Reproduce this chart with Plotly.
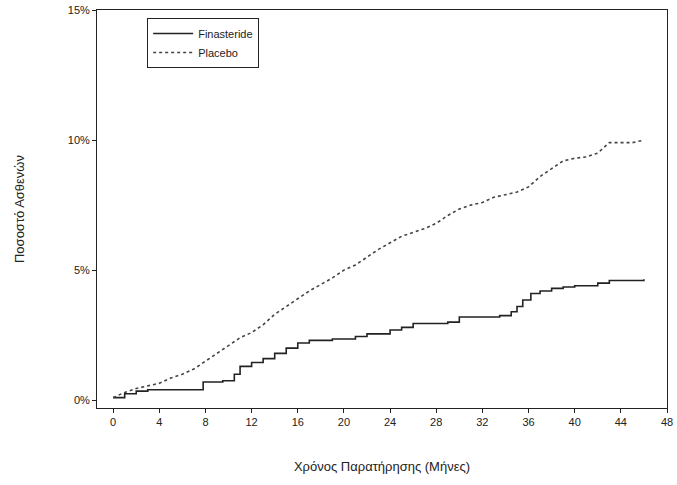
import plotly.graph_objects as go

# Data
fin_months = [0, 1, 2, 3, 7.8, 9.5, 10.5, 11, 12, 13, 14, 15, 16, 17, 19, 21, 22, 24, 25, 26,
              29, 30, 33.5, 34.5, 35, 35.5, 36.2, 37, 38, 39, 40, 42, 43, 46]
fin_values = [0.1, 0.25, 0.35, 0.4, 0.7, 0.75, 1.0, 1.3, 1.45, 1.6, 1.8, 2.0, 2.2, 2.3, 2.35, 2.45,
              2.55, 2.7, 2.8, 2.95, 3.0, 3.2, 3.25, 3.4, 3.6, 3.85, 4.1, 4.2, 4.3, 4.35, 4.4, 4.5,
              4.6, 4.65]

pla_months = list(range(0, 47))
pla_values = [0.1, 0.3, 0.45, 0.55, 0.65, 0.85, 1.0, 1.2, 1.5, 1.8, 2.1, 2.4, 2.6, 2.9, 3.3, 3.6,
              3.9, 4.2, 4.45, 4.7, 5.0, 5.2, 5.5, 5.8, 6.05, 6.3, 6.45, 6.6, 6.8, 7.1, 7.35, 7.5,
              7.6, 7.8, 7.9, 8.0, 8.2, 8.6, 8.9, 9.2, 9.3, 9.35, 9.5, 9.9, 9.9, 9.9, 10.0]

x_ticks = [0, 4, 8, 12, 16, 20, 24, 28, 32, 36, 40, 44, 48]
y_ticks = [0, 5, 10, 15]
y_tick_labels = ["0%", "5%", "10%", "15%"]

fig = go.Figure()
fig.add_trace(go.Scatter(
    x=fin_months, y=fin_values, name="Finasteride", mode="lines",
    line=dict(color="#222222", width=1.6, shape="hv"),
))
fig.add_trace(go.Scatter(
    x=pla_months, y=pla_values, name="Placebo", mode="lines",
    line=dict(color="#444444", width=1.6, dash="dot"),
))

font_family = "Liberation Sans, Arial, sans-serif"

fig.update_layout(
    width=677, height=485,
    margin=dict(l=97, r=10, t=10, b=77),
    paper_bgcolor="white", plot_bgcolor="white",
    font=dict(family=font_family, size=11, color="#222222"),
    showlegend=True,
    legend=dict(
        x=0.088, y=0.98, xanchor="left", yanchor="top",
        bordercolor="#222222", borderwidth=1, bgcolor="white",
        font=dict(size=11), itemwidth=40,
        tracegroupgap=0,
    ),
    xaxis=dict(
        range=[-1.4, 48], tickvals=x_ticks, ticktext=[str(v) for v in x_ticks],
        showgrid=False, zeroline=False, showline=True, linecolor="#222222",
        linewidth=1, mirror=True, ticks="outside", ticklen=4, tickcolor="#222222",
        automargin=False, ticklabeloverflow="allow",
        title=dict(text="Χρόνος Παρατήρησης (Μήνες)", font=dict(size=13), standoff=34),
    ),
    yaxis=dict(
        range=[-0.3, 15], tickvals=y_ticks, ticktext=y_tick_labels,
        showgrid=False, zeroline=False, showline=True, linecolor="#222222",
        linewidth=1, mirror=True, ticks="outside", ticklen=4, tickcolor="#222222",
        automargin=False, ticklabeloverflow="allow",
        title=dict(text="Ποσοστό Ασθενών", font=dict(size=13), standoff=40),
    ),
)

fig.write_html("out.html", config={"displayModeBar": False},
               post_script="document.body.style.margin='0';")
